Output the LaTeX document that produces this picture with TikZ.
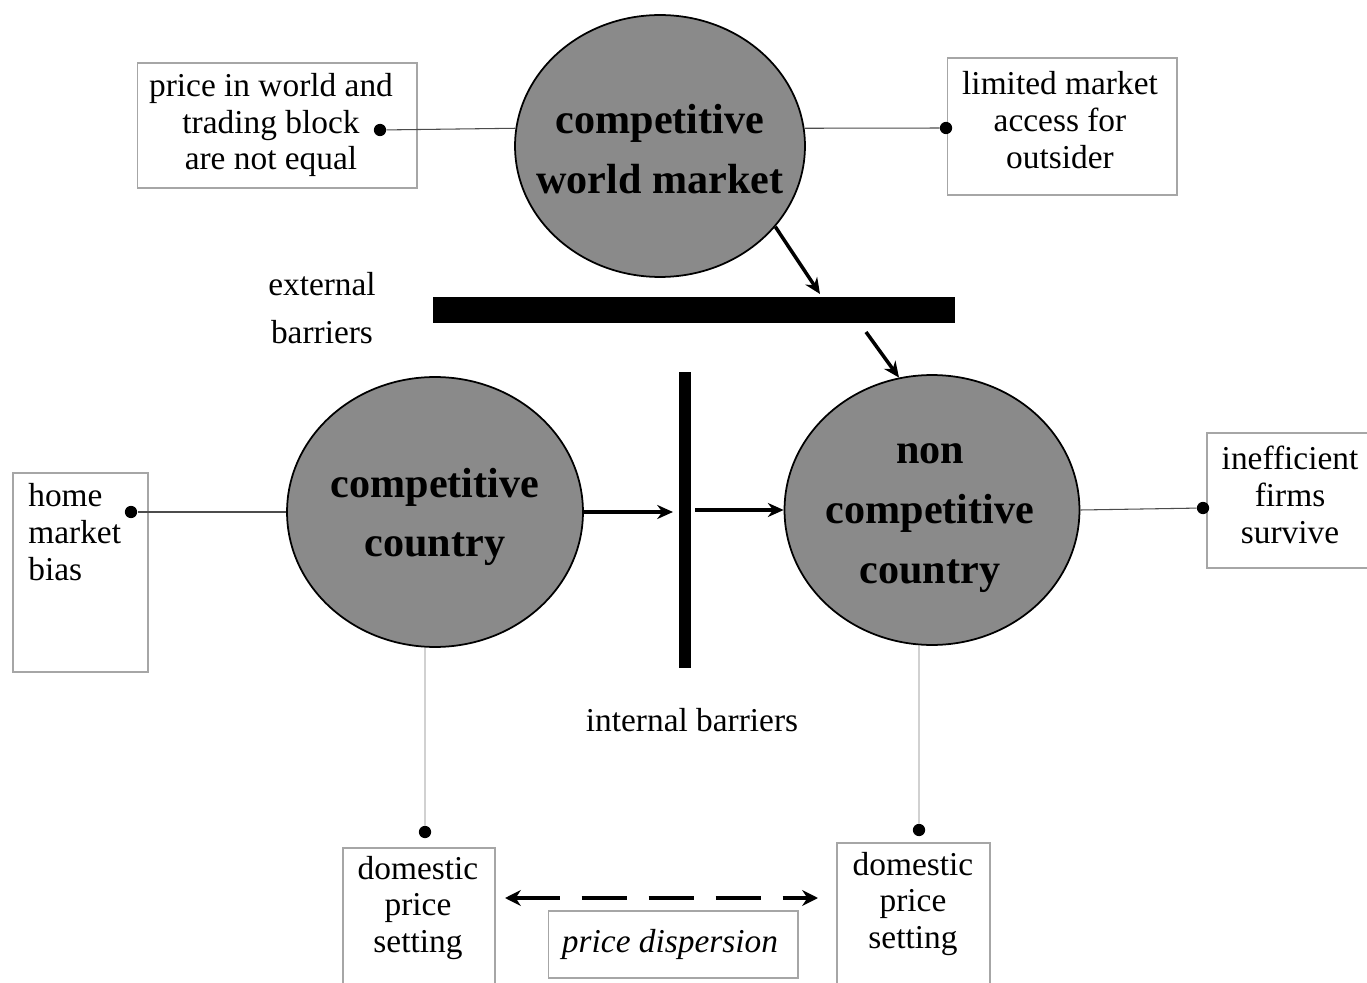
\documentclass[tikz,border=0pt]{standalone}
\usepackage{fontspec}
\setmainfont{Liberation Serif}
\usetikzlibrary{shapes.geometric,arrows.meta}
\definecolor{circgray}{RGB}{138,138,138}
\begin{document}
\begin{tikzpicture}[x=0.02cm,y=-0.02cm,
 circ/.style={ellipse,draw=black,line width=1pt,fill=circgray,inner sep=0pt},
 ctext/.style={align=center,inner sep=0pt,font=\fontsize{24}{34}\selectfont\bfseries},
 lbl/.style={align=center,font=\fontsize{19}{21}\selectfont,inner sep=0pt},
 frame/.style={draw=black!35,line width=0.6pt,inner sep=0pt},
 conn/.style={draw=black!70,line width=0.6pt},
 faint/.style={draw=black!18,line width=0.6pt},
 dotc/.style={circle,fill=black,inner sep=0pt,minimum size=7pt},
 arr/.style={line width=2pt,-{Stealth[length=9pt,width=8pt]}},
 barbox/.style={fill=black,draw=none,inner sep=0pt}]

\fill[white] (0,0) rectangle (1367,983);
\useasboundingbox (0,0) rectangle (1367,983);

% circles
\node[circ,minimum width=5.8cm,minimum height=5.24cm] (world) at (660,146) {};
\node[ctext] (worldt) at (660,149) {competitive\\world market};
\node[circ,minimum width=5.92cm,minimum height=5.4cm] (comp) at (435,512) {};
\node[ctext] (compt) at (435,517) {competitive\\country};
\node[circ,minimum width=5.9cm,minimum height=5.4cm] (noncomp) at (932,510) {};
\node[ctext] (noncompt) at (930,518) {non\\competitive\\country};

% barriers
\node[barbox,minimum width=10.44cm,minimum height=0.52cm] (hbar) at (694,310) {};
\node[barbox,minimum width=0.24cm,minimum height=5.92cm] (vbar) at (685,520) {};
\node[lbl,font=\fontsize{19}{27}\selectfont] (ext) at (322,308) {external\\barriers};
\node[lbl] (int) at (692,720) {internal barriers};

% boxes
\node[frame,minimum width=5.6cm,minimum height=2.5cm] (b1) at (277,125.5) {};
\node[lbl] (t1) at (271,125) {price in world and\\trading block\\are not equal};
\node[frame,minimum width=4.6cm,minimum height=2.74cm] (b2) at (1062,126.5) {};
\node[lbl] (t2) at (1060,120) {limited market\\access for\\outsider};
\node[frame,minimum width=2.7cm,minimum height=3.98cm] (b3) at (80.5,572.5) {};
\node[lbl,align=left,anchor=west] (t3) at (28,532) {home\\market\\bias};
\node[frame,minimum width=3.36cm,minimum height=2.7cm] (b4) at (1291,500.5) {};
\node[lbl] (t4) at (1290,495) {inefficient\\firms\\survive};
\node[frame,minimum width=3.04cm,minimum height=2.94cm] (b5) at (419,921.5) {};
\node[lbl] (t5) at (418,908) {domestic\\price\\setting};
\node[frame,minimum width=3.06cm,minimum height=2.94cm] (b6) at (913.5,916.5) {};
\node[lbl] (t6) at (913,904) {domestic\\price\\setting};
\node[frame,minimum width=5cm,minimum height=1.34cm] (b7) at (673,944.5) {};
\node[lbl,font=\fontsize{19}{21}\selectfont\itshape] (t7) at (670,944) {price dispersion};

% dots
\node[dotc] (d1) at (380,130) {};
\node[dotc] (d2) at (946,128) {};
\node[dotc] (d3) at (131,512) {};
\node[dotc] (d4) at (1203,508) {};
\node[dotc] (d5) at (425,832) {};
\node[dotc] (d6) at (919,830) {};

% connectors
\draw[conn] (world.173.7) -- (d1);
\draw[conn] (world.7.1) -- (d2);
\draw[conn] (comp.west) -- (d3);
\draw[conn] (noncomp.east) -- (d4);
\draw[faint] (d5 |- comp.south) -- (d5);
\draw[faint] (d6 |- noncomp.south) -- (d6);

% arrows
\coordinate (a1e) at (820,294);
\coordinate (a2s) at (866,332);
\coordinate (a3e) at (673,512);
\coordinate (a4s) at (695,510);
\draw[arr] (world.-35) -- (a1e);
\draw[arr] (a2s) -- (noncomp.104);
\draw[arr] (comp.east) -- (a3e);
\draw[arr] (a4s) -- (noncomp.west);

% price dispersion arrow
\coordinate (p1) at (505,898);
\coordinate (p2) at (818,898);
\draw[line width=2.5pt,dash pattern=on 0.9cm off 0.44cm,{Stealth[length=9pt,width=9pt]}-{Stealth[length=9pt,width=9pt]}] (p1) -- (p2);
\end{tikzpicture}
\end{document}
